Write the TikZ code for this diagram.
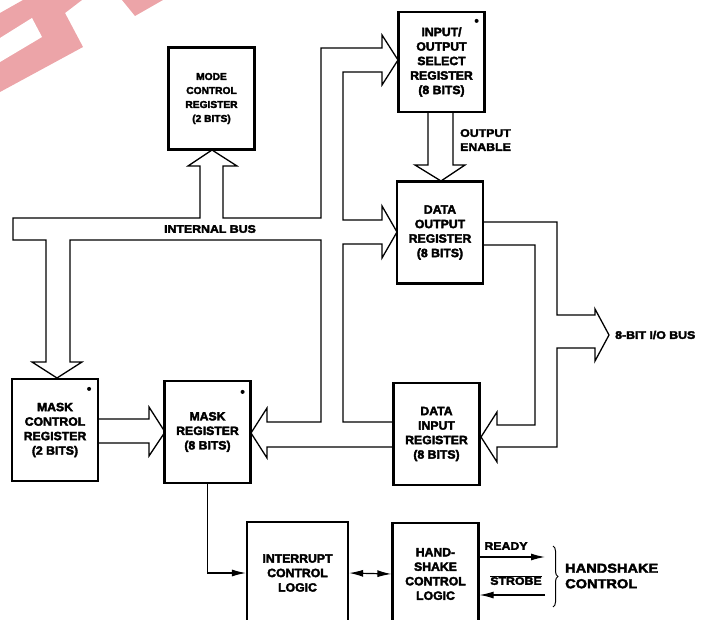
\documentclass[tikz,border=0pt]{standalone}
\usepackage{fontspec}
\setmainfont{Liberation Sans}[FakeStretch=1.12, BoldFeatures={FakeBold=3}]
\newfontfamily\boxfont{Liberation Sans}[FakeStretch=1.02, BoldFeatures={FakeBold=3}]
\usetikzlibrary{decorations.pathreplacing, arrows.meta}
\definecolor{wmark}{RGB}{236,164,168}
\begin{document}
\begin{tikzpicture}[>={Latex[length=14pt, width=7pt]}, x=1pt, y=-1pt,
  reg/.style={draw, line width=2.2pt, inner sep=0pt, minimum width=86pt, minimum height=102pt,
    align=center, font=\boxfont\fontsize{12}{14.5}\selectfont\bfseries},
  bus/.style={line width=1.3pt, line join=miter},
  sig/.style={line width=1.2pt},
  lbl/.style={font=\fontsize{11}{14}\selectfont\bfseries, inner sep=1pt}]
\useasboundingbox (0,0) rectangle (701,620);
\clip (0,0) rectangle (701,620);
% watermark
\fill[wmark] (0,13) -- (23,0) -- (82,0) -- (65,13) -- (83,47) -- (0,92) -- cycle;
\fill[white] (0,38) -- (32,18) -- (42,37) -- (0,62) -- cycle;
\fill[wmark] (122,0) -- (163,0) -- (135,16) -- cycle;
% registers
\node[reg, font=\boxfont\fontsize{10}{14}\selectfont\bfseries] (mode) at (211.5,98.5) {MODE\\CONTROL\\REGISTER\\(2 BITS)};
\node[reg, minimum height=100pt] (iosel) at (441.5,62) {INPUT/\\OUTPUT\\SELECT\\REGISTER\\(8 BITS)};
\node[reg] (dout) at (440,232.5) {DATA\\OUTPUT\\REGISTER\\(8 BITS)};
\node[reg] (mcr) at (55,430) {MASK\\CONTROL\\REGISTER\\(2 BITS)};
\node[reg] (mreg) at (207.5,432) {MASK\\REGISTER\\(8 BITS)};
\node[reg] (din) at (436.5,434) {DATA\\INPUT\\REGISTER\\(8 BITS)};
\node[reg, minimum width=101pt] (intr) at (297.5,573) {INTERRUPT\\CONTROL\\LOGIC};
\node[reg] (hand) at (435.5,574) {HAND-\\SHAKE\\CONTROL\\LOGIC};
\fill ([shift={(-10,11)}]mcr.north east) circle (2);
\fill ([shift={(-9,12)}]mreg.north east) circle (2);
\fill ([shift={(-9,10)}]iosel.north east) circle (2);
% internal bus
\draw[bus] (393,422) -- (343,422) -- (343,244) -- (382,244) -- (382,258) -- (397,232) -- (382,206)
  -- (382,220) -- (343,220) -- (343,72) -- (382,72) -- (382,85) -- (398,60) -- (382,35) -- (382,48)
  -- (321,48) -- (321,218) -- (223,218) -- (223,166) -- (237,166) -- (212,150) -- (188,166)
  -- (200,166) -- (200,218) -- (13,218) -- (13,240) -- (46,240) -- (46,362) -- (32,362)
  -- (57,378) -- (82,362) -- (70,362) -- (70,240) -- (321,240) -- (321,422) -- (267,422)
  -- (267,408) -- (251,433) -- (267,458) -- (267,447) -- (393,447);
\node[lbl] (ibus) at (210,229) {INTERNAL BUS};
% output enable
\draw[bus] (428,112) -- (428,165) -- (415,165) -- (441,181) -- (465,165) -- (453,165) -- (453,112);
\node[lbl, anchor=west, align=left] (oen) at (459,140) {OUTPUT\\ENABLE};
% i/o bus
\draw[bus] (483,222) -- (557,222) -- (557,315) -- (595,315) -- (595,309) -- (609,335) -- (595,361)
  -- (595,348) -- (557,348) -- (557,447) -- (497,447) -- (497,462) -- (481,437) -- (497,412)
  -- (497,425) -- (535,425) -- (535,245) -- (483,245);
\node[lbl, anchor=west] (iobus) at (614,335) {8-BIT I/O BUS};
% mask control -> mask
\draw[bus] (98,419) -- (149,419) -- (149,407) -- (165,432) -- (149,456) -- (149,443) -- (98,443);
% control signals
\draw[sig, ->] (mreg.south) |- (intr.west);
\draw[sig, <->] (intr.east) -- (hand.west);
\coordinate (rdy) at (545,557);
\coordinate (stb) at (545,595);
\draw[sig, ->] (hand.east |- rdy) -- (rdy);
\draw[sig, ->] (stb) -- (hand.east |- stb);
\node[lbl] (rdylbl) at (506,546) {READY};
\node[lbl] (stblbl) at (516,580) {$\overline{\hbox{STROBE}}$};
\draw[line width=1pt, decorate, decoration={brace, amplitude=5pt}] (553,546) -- (553,607);
\node[lbl, font=\fontsize{13}{15.5}\selectfont\bfseries, anchor=west, align=left] (hsc) at (564,576) {HANDSHAKE\\CONTROL};
\end{tikzpicture}
\end{document}
